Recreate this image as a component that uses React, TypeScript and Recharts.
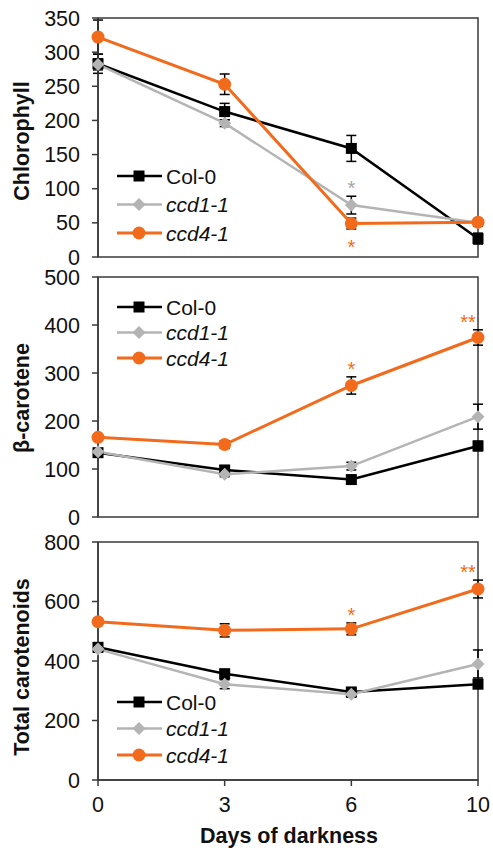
import React from 'react';
import { LineChart, Line, XAxis, YAxis, ErrorBar, LabelList, Legend, ReferenceArea } from 'recharts';

const days = ['0', '3', '6', '10'];
const seriesNames = ['Col-0', 'ccd1-1', 'ccd4-1'];

// Chlorophyll
const chlCol = [283, 213, 159, 27];
const chlColErr = [14, 12, 19, 8];
const chlCcd1 = [282, 196, 76, 50];
const chlCcd1Err = [8, 5, 13, 5];
const chlCcd4 = [322, 253, 49, 51];
const chlCcd4Err = [25, 15, 8, 5];
const chlCcd1Sig = ['', '', '*', ''];
const chlCcd4Sig = ['', '', '*', ''];
const chlTicks = [0, 50, 100, 150, 200, 250, 300, 350];

// beta-carotene
const betaCol = [134, 98, 78, 148];
const betaColErr = [8, 8, 5, 10];
const betaCcd1 = [136, 89, 106, 209];
const betaCcd1Err = [5, 5, 8, 26];
const betaCcd4 = [166, 151, 274, 374];
const betaCcd4Err = [5, 8, 18, 16];
const betaCcd1Sig = ['', '', '', ''];
const betaCcd4Sig = ['', '', '*', '**'];
const betaTicks = [0, 100, 200, 300, 400, 500];

// Total carotenoids
const totCol = [446, 357, 296, 322];
const totColErr = [10, 15, 10, 10];
const totCcd1 = [440, 322, 288, 390];
const totCcd1Err = [10, 15, 10, 47];
const totCcd4 = [532, 503, 508, 642];
const totCcd4Err = [10, 22, 20, 30];
const totCcd1Sig = ['', '', '', ''];
const totCcd4Sig = ['', '', '*', '**'];
const totTicks = [0, 200, 400, 600, 800];

const BLACK = '#000000';
const GRAY = '#b4b4b4';
const GRAY_STAR = '#a6a6a6';
const ORANGE = '#f26b1d';
const AXIS = '#3a3a3a';
const FONT = '"Liberation Sans", Arial, sans-serif';

const build = (col: number[], colE: number[], c1: number[], c1E: number[], c4: number[], c4E: number[], s1: string[], s4: string[]) =>
  days.map((d, i) => ({
    day: d,
    col: col[i], colErr: colE[i],
    ccd1: c1[i], ccd1Err: c1E[i], ccd1Sig: s1[i],
    ccd4: c4[i], ccd4Err: c4E[i], ccd4Sig: s4[i],
  }));

const SquareDot = (p: any) => {
  const { cx, cy } = p;
  if (cx == null || cy == null) return null;
  return <rect x={cx - 5.5} y={cy - 5.5} width={11} height={11} fill={BLACK} />;
};
const DiamondDot = (p: any) => {
  const { cx, cy } = p;
  if (cx == null || cy == null) return null;
  const r = 6.5;
  return <polygon points={`${cx},${cy - r} ${cx + r},${cy} ${cx},${cy + r} ${cx - r},${cy}`} fill={GRAY} />;
};
const CircleDot = (p: any) => {
  const { cx, cy } = p;
  if (cx == null || cy == null) return null;
  return <circle cx={cx} cy={cy} r={6.5} fill={ORANGE} />;
};

const makeSig = (color: string, dir: 'up' | 'down', errs: number[], ppu: number) => (props: any) => {
  const vb = props.viewBox || {};
  const x = props.x ?? vb.x;
  const y = props.y ?? vb.y;
  const v = props.value;
  if (!v || x == null || y == null) return null;
  const idx = props.index;
  const e = idx != null && errs[idx] != null ? errs[idx] * ppu : 8;
  const multi = String(v).length > 1;
  const cx = x + (multi ? -10 : 0);
  const cy = dir === 'up' ? y - e - 12.5 : y + e + 13;
  return (
    <text x={cx} y={cy + 11.5} textAnchor="middle" fontSize={20} fill={color} fontFamily={FONT}>
      {v}
    </text>
  );
};

const YTitle = (p: any) => (
  <text
    x={22}
    y={p.cy}
    transform={`rotate(-90 22 ${p.cy})`}
    textAnchor="middle"
    dominantBaseline="central"
    fontWeight="bold"
    fontSize={21.5}
    fill="#111"
    fontFamily={FONT}
  >
    {p.text}
  </text>
);

const XTitle = (p: any) => (
  <text x={289} y={p.by} textAnchor="middle" fontWeight="bold" fontSize={21.5} fill="#111" fontFamily={FONT}>
    Days of darkness
  </text>
);

const LegendBox = ({ gap }: { gap: number }) => {
  const items = [
    { name: seriesNames[0], color: BLACK, italic: false, w: 2.5, m: 'sq' },
    { name: seriesNames[1], color: GRAY, italic: true, w: 2.5, m: 'di' },
    { name: seriesNames[2], color: ORANGE, italic: true, w: 3, m: 'ci' },
  ];
  return (
    <svg width={170} height={gap * 2 + 26} style={{ display: 'block' }}>
      {items.map((s, i) => {
        const y = 12 + i * gap;
        const mx = 29;
        return (
          <g key={s.name}>
            <line x1={7} x2={52} y1={y} y2={y} stroke={s.color} strokeWidth={s.w} />
            {s.m === 'sq' && <rect x={mx - 5.5} y={y - 5.5} width={11} height={11} fill={BLACK} />}
            {s.m === 'di' && <polygon points={`${mx},${y - 6.5} ${mx + 6.5},${y} ${mx},${y + 6.5} ${mx - 6.5},${y}`} fill={GRAY} />}
            {s.m === 'ci' && <circle cx={mx} cy={y} r={6.5} fill={ORANGE} />}
            <text x={56} y={y + 7.5} fontSize={21} fill="#111" fontStyle={s.italic ? 'italic' : 'normal'} fontFamily={FONT}>
              {s.name}
            </text>
          </g>
        );
      })}
    </svg>
  );
};

type PanelProps = {
  data: any[];
  ticks: number[];
  max: number;
  title: string;
  titleY: number;
  top: number;
  height: number;
  marginTop: number;
  marginBottom: number;
  showX: boolean;
  legendTop: number;
  legendGap: number;
  ccd1Dir: 'up' | 'down';
  ccd4Dir: 'up' | 'down';
  ccd1Errs: number[];
  ccd4Errs: number[];
};

const Panel = (p: PanelProps) => {
  const plotH = p.height - p.marginTop - (p.showX ? 68 : p.marginBottom);
  const ppu = plotH / p.max;
  return (
    <div style={{ position: 'absolute', left: 0, top: p.top, width: 493, height: p.height }}>
      <LineChart
        width={493}
        height={p.height}
        data={p.data}
        margin={{ top: p.marginTop, right: 15, bottom: p.showX ? 0 : p.marginBottom, left: 0 }}
      >
        <XAxis
          dataKey="day"
          height={p.showX ? 68 : 0}
          tick={p.showX ? { fontSize: 21.5, fill: '#111', fontFamily: FONT } : false}
          tickLine={p.showX ? { stroke: AXIS, strokeWidth: 1.5 } : false}
          tickSize={6}
          tickMargin={11}
          axisLine={{ stroke: AXIS, strokeWidth: 1.5 }}
          interval={0}
          label={p.showX ? <XTitle by={313} /> : undefined}
        />
        <YAxis
          type="number"
          domain={[0, p.max]}
          ticks={p.ticks}
          interval={0}
          width={98}
          tickSize={6}
          tickMargin={12}
          tick={{ fontSize: 21.5, fill: '#111', fontFamily: FONT }}
          tickLine={{ stroke: AXIS, strokeWidth: 1.5 }}
          axisLine={{ stroke: AXIS, strokeWidth: 1.5 }}
          label={<YTitle text={p.title} cy={p.titleY} />}
        />
        <ReferenceArea y1={0} y2={p.max} fill="none" fillOpacity={0} stroke={AXIS} strokeWidth={1.5} ifOverflow="visible" />
        <Line
          dataKey="col"
          stroke={BLACK}
          strokeWidth={2.5}
          dot={<SquareDot />}
          activeDot={false}
          isAnimationActive={false}
        >
          <ErrorBar dataKey="colErr" width={5} stroke={BLACK} strokeWidth={1.5} direction="y" isAnimationActive={false} />
        </Line>
        <Line
          dataKey="ccd1"
          stroke={GRAY}
          strokeWidth={2.5}
          dot={<DiamondDot />}
          activeDot={false}
          isAnimationActive={false}
        >
          <ErrorBar dataKey="ccd1Err" width={5} stroke={BLACK} strokeWidth={1.5} direction="y" isAnimationActive={false} />
          <LabelList dataKey="ccd1Sig" content={makeSig(GRAY_STAR, p.ccd1Dir, p.ccd1Errs, ppu)} />
        </Line>
        <Line
          dataKey="ccd4"
          stroke={ORANGE}
          strokeWidth={3}
          dot={<CircleDot />}
          activeDot={false}
          isAnimationActive={false}
        >
          <ErrorBar dataKey="ccd4Err" width={5} stroke={BLACK} strokeWidth={1.5} direction="y" isAnimationActive={false} />
          <LabelList dataKey="ccd4Sig" content={makeSig(ORANGE, p.ccd4Dir, p.ccd4Errs, ppu)} />
        </Line>
        <Legend
          layout="horizontal"
          verticalAlign="middle"
          align="center"
          content={() => <LegendBox gap={p.legendGap} />}
          wrapperStyle={{ top: p.legendTop - 12, left: 110, width: 170, height: p.legendGap * 2 + 26 }}
        />
      </LineChart>
    </div>
  );
};

export default function App() {
  const chl = build(chlCol, chlColErr, chlCcd1, chlCcd1Err, chlCcd4, chlCcd4Err, chlCcd1Sig, chlCcd4Sig);
  const beta = build(betaCol, betaColErr, betaCcd1, betaCcd1Err, betaCcd4, betaCcd4Err, betaCcd1Sig, betaCcd4Sig);
  const tot = build(totCol, totColErr, totCcd1, totCcd1Err, totCcd4, totCcd4Err, totCcd1Sig, totCcd4Sig);
  return (
    <div style={{ position: 'absolute', left: 0, top: 0, width: 493, height: 848, background: '#fff', fontFamily: FONT }}>
      <Panel data={chl} ticks={chlTicks} max={350} title="Chlorophyll" titleY={141} top={0} height={270}
        marginTop={18} marginBottom={13} showX={false} legendTop={176} legendGap={28.5}
        ccd1Dir="up" ccd4Dir="down" ccd1Errs={chlCcd1Err} ccd4Errs={chlCcd4Err} />
      <Panel data={beta} ticks={betaTicks} max={500} title="β-carotene" titleY={133} top={265} height={265}
        marginTop={12} marginBottom={13} showX={false} legendTop={42} legendGap={25.5}
        ccd1Dir="up" ccd4Dir="up" ccd1Errs={betaCcd1Err} ccd4Errs={betaCcd4Err} />
      <Panel data={tot} ticks={totTicks} max={800} title="Total carotenoids" titleY={137} top={530} height={318}
        marginTop={12} marginBottom={0} showX={true} legendTop={172} legendGap={26.5}
        ccd1Dir="up" ccd4Dir="up" ccd1Errs={totCcd1Err} ccd4Errs={totCcd4Err} />
    </div>
  );
}
